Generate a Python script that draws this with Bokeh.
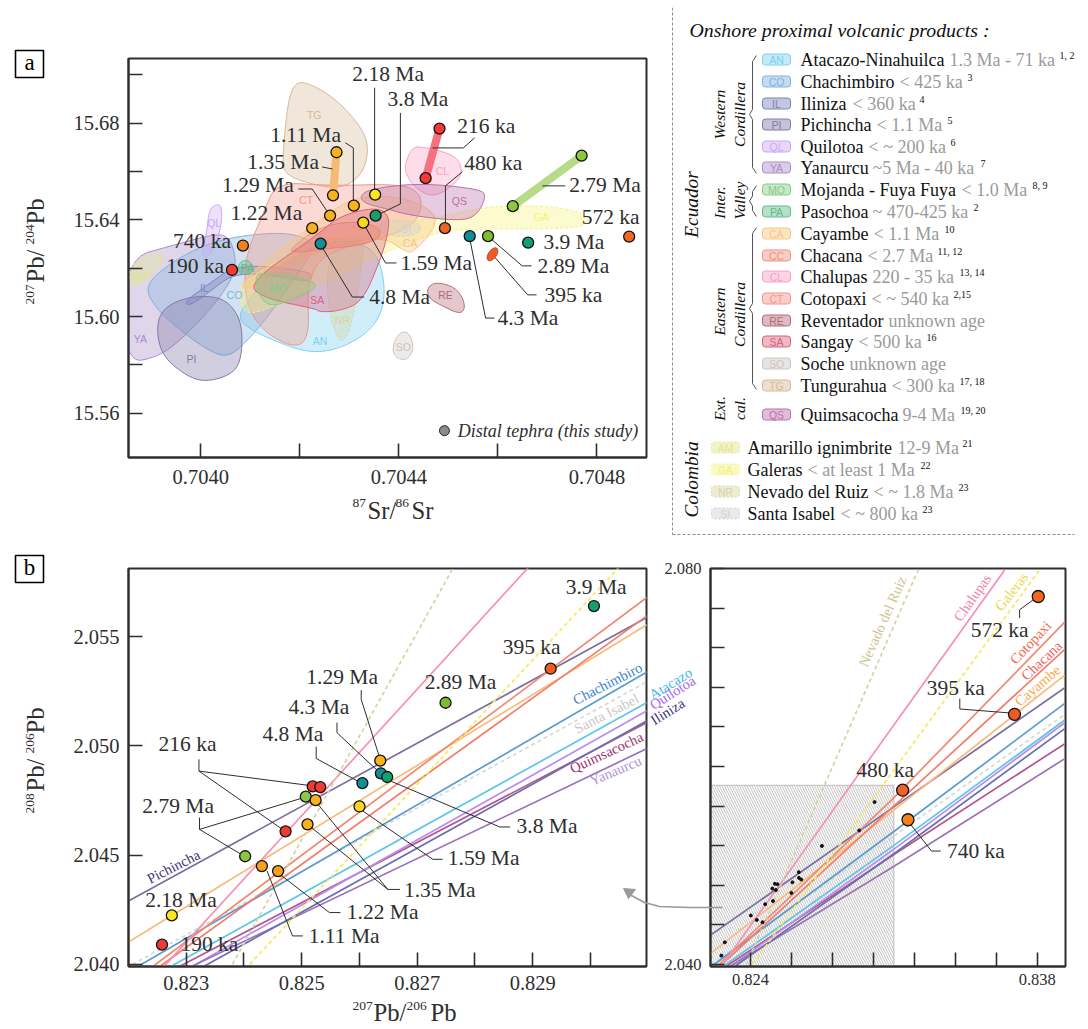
# -*- coding:utf-8 -*-
# Pb-Sr isotope plots of distal tephra against onshore volcanic fields

from bokeh.core.properties import value
from bokeh.embed import file_html
from bokeh.layouts import column, row
from bokeh.models import FixedTicker, Range1d
from bokeh.plotting import figure
from bokeh.resources import INLINE

SERIF = "Liberation Serif"
SANS = "Liberation Sans"
DARK = "#2e2e2e"

# ---- panel a : volcanic fields, 87Sr/86Sr and 207Pb/204Pb ----
ya_sr = [0.703846, 0.703947, 0.704021, 0.704054, 0.704070, 0.704068, 0.704037, 0.703973, 0.703916, 0.703846]
ya_pb = [15.6239, 15.6297, 15.6338, 15.6338, 15.6259, 15.6176, 15.6073, 15.5928, 15.5833, 15.5808]
am_sr = [0.703856, 0.703886, 0.703916, 0.703930, 0.703916, 0.703886, 0.703862, 0.703856]
am_pb = [15.6205, 15.6251, 15.6263, 15.6247, 15.6205, 15.6143, 15.6119, 15.6143]
co_sr = [0.703886, 0.703930, 0.703997, 0.704064, 0.704165, 0.704219, 0.704229, 0.704185, 0.704132, 0.704082, 0.704052, 0.704017, 0.703963, 0.703910]
co_pb = [15.6123, 15.6210, 15.6288, 15.6330, 15.6350, 15.6321, 15.6280, 15.6143, 15.5990, 15.5874, 15.5833, 15.5858, 15.5936, 15.6032]
il_sr = [0.703967, 0.704011, 0.704064, 0.704132, 0.704219, 0.704225, 0.704215, 0.704132, 0.704064, 0.704017, 0.703977]
il_pb = [15.6061, 15.6127, 15.6205, 15.6210, 15.6185, 15.6164, 15.6143, 15.6176, 15.6176, 15.6102, 15.6044]
pi_sr = [0.703910, 0.703922, 0.703971, 0.704031, 0.704064, 0.704084, 0.704082, 0.704064, 0.704011, 0.703971, 0.703922]
pi_pb = [15.5949, 15.6032, 15.6081, 15.6085, 15.6044, 15.5961, 15.5825, 15.5762, 15.5729, 15.5754, 15.5837]
ql_sr = [0.704011, 0.704017, 0.704033, 0.704043, 0.704041, 0.704023, 0.704007, 0.704003]
ql_pb = [15.6334, 15.6446, 15.6466, 15.6454, 15.6363, 15.6268, 15.6239, 15.6280]
pa_sr = [0.704074, 0.704082, 0.704094, 0.704104, 0.704106, 0.704094, 0.704080]
pa_pb = [15.6205, 15.6230, 15.6234, 15.6218, 15.6189, 15.6172, 15.6176]
mo_sr = [0.704108, 0.704142, 0.704189, 0.704231, 0.704231, 0.704189, 0.704142, 0.704118]
mo_pb = [15.6176, 15.6176, 15.6168, 15.6143, 15.6114, 15.6073, 15.6040, 15.6081]
an_sr = [0.704074, 0.704098, 0.704149, 0.704219, 0.704290, 0.704351, 0.704371, 0.704369, 0.704340, 0.704280, 0.704219, 0.704149, 0.704098]
an_pb = [15.5998, 15.6073, 15.6197, 15.6280, 15.6321, 15.6280, 15.6156, 15.6032, 15.5936, 15.5866, 15.5849, 15.5899, 15.5949]
ct_sr = [0.704153, 0.704260, 0.704401, 0.704441, 0.704447, 0.704425, 0.704361, 0.704280, 0.704235, 0.704215, 0.704219, 0.704205, 0.704169, 0.704122, 0.704092, 0.704088, 0.704098, 0.704128]
ct_pb = [15.6557, 15.6541, 15.6549, 15.6516, 15.6446, 15.6371, 15.6321, 15.6280, 15.6230, 15.6114, 15.5949, 15.5878, 15.5887, 15.5949, 15.6052, 15.6189, 15.6292, 15.6437]
tg_sr = [0.704183, 0.704203, 0.704266, 0.704320, 0.704340, 0.704328, 0.704284, 0.704219, 0.704169, 0.704165, 0.704173]
tg_pb = [15.6942, 15.6980, 15.6913, 15.6797, 15.6706, 15.6590, 15.6528, 15.6549, 15.6590, 15.6653, 15.6839]
cl_sr = [0.704411, 0.704425, 0.704441, 0.704508, 0.704528, 0.704522, 0.704472, 0.704435, 0.704417]
cl_pb = [15.6624, 15.6694, 15.6706, 15.6673, 15.6624, 15.6562, 15.6491, 15.6528, 15.6578]
qs_sr = [0.704320, 0.704340, 0.704441, 0.704563, 0.704577, 0.704557, 0.704522, 0.704427, 0.704375, 0.704334]
qs_pb = [15.6495, 15.6528, 15.6553, 15.6528, 15.6499, 15.6417, 15.6396, 15.6417, 15.6446, 15.6466]
ga_sr = [0.704078, 0.704179, 0.704280, 0.704468, 0.704577, 0.704710, 0.704779, 0.704785, 0.704738, 0.704542, 0.704476, 0.704375, 0.704274, 0.704179, 0.704094, 0.704078]
ga_pb = [15.6135, 15.6259, 15.6355, 15.6404, 15.6458, 15.6458, 15.6425, 15.6383, 15.6363, 15.6363, 15.6350, 15.6268, 15.6168, 15.6073, 15.5998, 15.6073]
nr_sr = [0.704256, 0.704290, 0.704330, 0.704324, 0.704308, 0.704286, 0.704266, 0.704256]
nr_pb = [15.6230, 15.6321, 15.6342, 15.6197, 15.5990, 15.5878, 15.5957, 15.6073]
si_sr = [0.704361, 0.704421, 0.704445, 0.704441, 0.704401, 0.704361]
si_pb = [15.6396, 15.6400, 15.6379, 15.6342, 15.6330, 15.6346]
ca_sr = [0.704078, 0.704159, 0.704239, 0.704306, 0.704401, 0.704476, 0.704470, 0.704431, 0.704417, 0.704371, 0.704280, 0.704179, 0.704094]
ca_pb = [15.6135, 15.6280, 15.6396, 15.6495, 15.6499, 15.6433, 15.6355, 15.6272, 15.6263, 15.6330, 15.6301, 15.6218, 15.6106]
sa_sr = [0.704092, 0.704233, 0.704280, 0.704355, 0.704381, 0.704377, 0.704361, 0.704326, 0.704280, 0.704239, 0.704233, 0.704132]
sa_pb = [15.6135, 15.6334, 15.6417, 15.6454, 15.6417, 15.6334, 15.6226, 15.6061, 15.6023, 15.6019, 15.6032, 15.6073]
cc_sr = [0.704179, 0.704239, 0.704310, 0.704361, 0.704363, 0.704330, 0.704249, 0.704189]
cc_pb = [15.6280, 15.6371, 15.6396, 15.6371, 15.6330, 15.6297, 15.6280, 15.6263]
re_sr = [0.704456, 0.704472, 0.704508, 0.704528, 0.704534, 0.704522, 0.704488, 0.704462]
re_pb = [15.6114, 15.6143, 15.6127, 15.6085, 15.6032, 15.6011, 15.6044, 15.6073]
so_sr = [0.704387, 0.704401, 0.704421, 0.704431, 0.704415, 0.704391]
so_pb = [15.5878, 15.5936, 15.5936, 15.5866, 15.5816, 15.5833]

field_names = ["AN", "YA", "AM", "CO", "PI", "IL", "QL", "TG", "CT", "GA", "CA", "NR", "SI", "CC", "SA", "MO", "PA", "CL", "QS", "RE", "SO"]
field_sr = [an_sr, ya_sr, am_sr, co_sr, pi_sr, il_sr, ql_sr, tg_sr, ct_sr, ga_sr, ca_sr, nr_sr, si_sr, cc_sr, sa_sr, mo_sr, pa_sr, cl_sr, qs_sr, re_sr, so_sr]
field_pb = [an_pb, ya_pb, am_pb, co_pb, pi_pb, il_pb, ql_pb, tg_pb, ct_pb, ga_pb, ca_pb, nr_pb, si_pb, cc_pb, sa_pb, mo_pb, pa_pb, cl_pb, qs_pb, re_pb, so_pb]
dashed_fields = ["AM", "GA", "NR", "SI"]

field_colors = {
    "AN": "#7dd0f0", "CO": "#7fb2dd", "IL": "#7c83bc", "PI": "#7f7ba6", "QL": "#c9a8f5", "YA": "#a88dc8",
    "MO": "#84cc84", "PA": "#5fbb88", "CA": "#f9c67e", "CC": "#f2917a", "CL": "#f9a0c2", "CT": "#f3958a",
    "RE": "#b26a74", "SA": "#d9627c", "SO": "#cdc4c0", "TG": "#d6b996", "QS": "#bc6fa8", "AM": "#e3e58a",
    "GA": "#f6f27a", "NR": "#d6d6a2", "SI": "#cfd3d3",
}

# name labels inside the fields
tag_names = ["TG", "CT", "QL", "AM", "PA", "IL", "CO", "YA", "PI", "MO", "SA", "AN", "CC", "NR", "SI", "CA", "CL", "QS", "GA", "RE", "SO"]
tag_sr = [0.704229, 0.704213, 0.704027, 0.703876, 0.704094, 0.704007, 0.704068, 0.703878, 0.703981, 0.704157, 0.704235, 0.704241, 0.704270, 0.704286, 0.704415, 0.704423, 0.704488, 0.704522, 0.704688, 0.704494, 0.704409]
tag_pb = [15.6835, 15.6483, 15.6388, 15.6168, 15.6201, 15.6119, 15.6090, 15.5907, 15.5825, 15.6119, 15.6069, 15.5899, 15.6309, 15.5986, 15.6363, 15.6305, 15.6603, 15.6479, 15.6412, 15.6090, 15.5874]

# tephra samples, panel a
tephra_a_sr = [0.704085, 0.704063, 0.704274, 0.704267, 0.704261, 0.704225, 0.704242, 0.704309, 0.704352, 0.704353, 0.704328, 0.704493, 0.704482, 0.704454, 0.704769, 0.704630, 0.704865, 0.704661, 0.704543, 0.704580]
tephra_a_pb = [15.6294, 15.6193, 15.6680, 15.6502, 15.6418, 15.6366, 15.6302, 15.6459, 15.6505, 15.6418, 15.6389, 15.6366, 15.6778, 15.6573, 15.6666, 15.6457, 15.6331, 15.6306, 15.6333, 15.6333]
tephra_a_col = ["#f58220", "#ee3b33", "#f9b21d", "#f9b21d", "#f9b21d", "#f9b21d", "#0f8f99", "#f9b21d", "#fce620", "#15a06b", "#fbd51e", "#f1612a", "#ee3b33", "#ee3b33", "#8dc63f", "#8dc63f", "#f26a22", "#15a06b", "#0f8f99", "#7dbe31"]
ellipse_395_sr = [0.704589]
ellipse_395_pb = [15.6258]

# pairs of analyses of one tephra
pair_sr = [[0.704274, 0.704267], [0.704482, 0.704454], [0.704769, 0.704630]]
pair_pb = [[15.6680, 15.6502], [15.6778, 15.6573], [15.6666, 15.6457]]
pair_col = ["#f4bc72", "#f4727f", "#b6dc8a"]

label_a = ["1.11 Ma", "1.35 Ma", "1.29 Ma", "1.22 Ma", "740 ka", "190 ka", "2.18 Ma", "3.8 Ma", "216 ka", "480 ka", "2.79 Ma", "572 ka", "3.9 Ma", "2.89 Ma", "395 ka", "4.3 Ma", "1.59 Ma", "4.8 Ma"]
label_a_sr = [0.704140, 0.704094, 0.704043, 0.704060, 0.703944, 0.703930, 0.704306, 0.704377, 0.704518, 0.704532, 0.704744, 0.704769, 0.704692, 0.704680, 0.704694, 0.704599, 0.704403, 0.704340]
label_a_pb = [15.6753, 15.6641, 15.6545, 15.6429, 15.6313, 15.6210, 15.7004, 15.6901, 15.6789, 15.6636, 15.6545, 15.6412, 15.6309, 15.6210, 15.6090, 15.5994, 15.6222, 15.6081]

leader_a_sr = [
    [0.704245, 0.704266], [0.704197, 0.704225, 0.704256], [0.704292, 0.704308, 0.704308], [0.704351, 0.704351],
    [0.704403, 0.704403, 0.704353], [0.704553, 0.704530, 0.704468], [0.704528, 0.704494, 0.704494], [0.704690, 0.704736],
    [0.704328, 0.704373, 0.704395], [0.704241, 0.704306, 0.704330], [0.704542, 0.704575, 0.704593],
    [0.704579, 0.704649, 0.704668], [0.704593, 0.704660, 0.704678],
]
leader_a_pb = [
    [15.6619, 15.6611], [15.6528, 15.6528, 15.6433], [15.6719, 15.6698, 15.6458], [15.6947, 15.6504],
    [15.6843, 15.6466, 15.6417], [15.6740, 15.6698, 15.6698], [15.6599, 15.6541, 15.6367], [15.6541, 15.6541],
    [15.6388, 15.6222, 15.6222], [15.6301, 15.6081, 15.6081], [15.6334, 15.5994, 15.5994],
    [15.6334, 15.6210, 15.6210], [15.6247, 15.6090, 15.6090],
]

# ---- panel b and inset : tephra and mixing lines, 207Pb/206Pb and 208Pb/206Pb ----
tephra_b_x = [0.82258, 0.82275, 0.82402, 0.82507, 0.82472, 0.82519, 0.82532, 0.82524, 0.82510, 0.82431, 0.82459, 0.82600, 0.82605, 0.82637, 0.82648, 0.82636, 0.82749, 0.82931, 0.83006]
tephra_b_y = [2.04090, 2.04224, 2.04495, 2.04768, 2.04609, 2.04815, 2.04812, 2.04752, 2.04641, 2.04450, 2.04427, 2.04723, 2.04830, 2.04875, 2.04858, 2.04933, 2.05198, 2.05354, 2.05641]
tephra_b_col = ["#ee3b33", "#fce620", "#8dc63f", "#8dc63f", "#ee3b33", "#ee3b33", "#ee3b33", "#f9b21d", "#f9b21d", "#f9a01d", "#f9a01d", "#fbd51e", "#0f8f99", "#0f8f99", "#15a06b", "#f9b21d", "#7dbe31", "#f15a24", "#15a06b"]

inset_x = [0.83805, 0.83689, 0.83143, 0.83169]
inset_y = [2.07717, 2.06527, 2.05761, 2.05462]
inset_col = ["#f26a22", "#f15a24", "#f1612a", "#f7801e"]

line_names = ["Pichincha", "Cayambe", "Santa Isabel", "Chachimbiro", "Cotopaxi", "Chacana", "Atacazo", "Quimsacocha", "Quilotoa", "Yanaurcu", "Iliniza", "Chalupas", "Nevado del Ruiz", "Galeras"]
line_x = [
    [0.82200, 0.83097, 0.83933], [0.82200, 0.83097, 0.83933], [0.82207, 0.83097, 0.83933], [0.82216, 0.83097, 0.83933],
    [0.82242, 0.83097, 0.83933], [0.82254, 0.83097, 0.83933], [0.82273, 0.83097, 0.83933], [0.82288, 0.83097, 0.83933],
    [0.82310, 0.83097, 0.83933], [0.82309, 0.83097, 0.83933], [0.82330, 0.83097, 0.83933],
    [0.82259, 0.83641], [0.82380, 0.83219], [0.82410, 0.83811],
]
line_y = [
    [2.04290, 2.05587, 2.06793], [2.04102, 2.05554, 2.06921], [2.04000, 2.05293, 2.06524], [2.03990, 2.05338, 2.06635],
    [2.03990, 2.05679, 2.07455], [2.03990, 2.05595, 2.07180], [2.03990, 2.05198, 2.06467], [2.03990, 2.05106, 2.06228],
    [2.03990, 2.05160, 2.06440], [2.03990, 2.04987, 2.06077], [2.03990, 2.05114, 2.06380],
    [2.03983, 2.07986], [2.04000, 2.07986], [2.04000, 2.07986],
]
line_col = ["#7c6fa0", "#fbbb78", "#d8d8d8", "#5b9bd0", "#f08a70", "#f27d6b", "#5ec5ea", "#b5578f", "#bb8cf0", "#9b72b8", "#6a6fb0", "#f78fb3", "#d5d3a0", "#f7e85c"]
dashed_lines = ["Santa Isabel", "Nevado del Ruiz", "Galeras"]

label_b = ["1.29 Ma", "4.3 Ma", "4.8 Ma", "216 ka", "2.79 Ma", "2.18 Ma", "190 ka", "1.22 Ma", "1.11 Ma", "3.9 Ma", "395 ka", "2.89 Ma", "3.8 Ma", "1.59 Ma", "1.35 Ma"]
label_b_x = [0.82508, 0.82477, 0.82432, 0.82252, 0.82224, 0.82229, 0.82290, 0.82578, 0.82512, 0.82957, 0.82848, 0.82713, 0.82872, 0.82753, 0.82677]
label_b_y = [2.05314, 2.05177, 2.05053, 2.05007, 2.04723, 2.04293, 2.04092, 2.04238, 2.04128, 2.05726, 2.05452, 2.05291, 2.04632, 2.04485, 2.04339]

leader_b_x = [
    [0.82603, 0.82603, 0.82634], [0.82561, 0.82561, 0.82632], [0.82525, 0.82525, 0.82597],
    [0.82322, 0.82322, 0.82511], [0.82322, 0.82465], [0.82323, 0.82323, 0.82499], [0.82323, 0.82395],
    [0.82440, 0.82484, 0.82502], [0.82462, 0.82548, 0.82567], [0.82528, 0.82649, 0.82670], [0.82517, 0.82649],
    [0.82606, 0.82727, 0.82744], [0.82655, 0.82843, 0.82861],
]
leader_b_y = [
    [2.05256, 2.05213, 2.04954], [2.05107, 2.05061, 2.04885], [2.04997, 2.04943, 2.04839],
    [2.04939, 2.04885, 2.04820], [2.04885, 2.04621], [2.04672, 2.04618, 2.04760], [2.04618, 2.04504],
    [2.04427, 2.04130, 2.04130], [2.04412, 2.04237, 2.04237], [2.04733, 2.04343, 2.04343], [2.04626, 2.04343],
    [2.04702, 2.04481, 2.04481], [2.04838, 2.04629, 2.04629],
]

label_c = ["572 ka", "395 ka", "480 ka", "740 ka"]
label_c_x = [0.83475, 0.83261, 0.82916, 0.83359]
label_c_y = [2.07382, 2.06797, 2.05960, 2.05143]
leader_c_x = [[0.83714, 0.83714, 0.83787], [0.83422, 0.83422, 0.83665], [0.83179, 0.83284, 0.83329]]
leader_c_y = [[2.07499, 2.07583, 2.07694], [2.06685, 2.06581, 2.06541], [2.05422, 2.05146, 2.05146]]

zoom_x0, zoom_x1, zoom_y0, zoom_y1 = 0.822, 0.831, 2.0398, 2.0581

# ---- legend ----
leg_tag = ["AN", "CO", "IL", "PI", "QL", "YA", "MO", "PA", "CA", "CC", "CL", "CT", "RE", "SA", "SO", "TG", "QS", "AM", "GA", "NR", "SI"]
leg_name = ["Atacazo-Ninahuilca", "Chachimbiro", "Iliniza", "Pichincha", "Quilotoa", "Yanaurcu", "Mojanda - Fuya Fuya", "Pasochoa", "Cayambe", "Chacana", "Chalupas", "Cotopaxi", "Reventador", "Sangay", "Soche", "Tungurahua", "Quimsacocha", "Amarillo ignimbrite", "Galeras", "Nevado del Ruiz", "Santa Isabel"]
leg_age = ["1.3 Ma - 71 ka", "< 425 ka", "< 360 ka", "< 1.1 Ma", "< ~ 200 ka", "~5 Ma - 40 ka", "< 1.0 Ma", "~ 470-425 ka", "< 1.1 Ma", "< 2.7 Ma", "220 - 35 ka", "< ~ 540 ka", "unknown age", "< 500 ka", "unknown age", "< 300 ka", "9-4 Ma", "12-9 Ma", "< at least 1 Ma", "< ~ 1.8 Ma", "< ~ 800 ka"]
leg_ref = ["1, 2", "3", "4", "5", "6", "7", "8, 9", "2", "10", "11, 12", "13, 14", "2,15", "", "16", "", "17, 18", "19, 20", "21", "22", "23", "23"]

leg_y = [60, 82, 104, 125, 147, 168, 190, 212, 234, 256, 277, 299, 321, 342, 364, 386, 415, 448, 470, 492, 514]
leg_age_x = [950, 900, 853, 877, 869, 873, 962, 873, 874, 868, 873, 872, 889, 859, 850, 892, 903, 898, 808, 874, 841]
leg_ref_x = [1060, 968, 920, 948, 951, 981, 1033, 974, 945, 938, 960, 954, 0, 927, 0, 960, 961, 963, 921, 959, 923]

side_text = ["Western", "Cordillera", "Inter.", "Valley", "Eastern", "Cordillera", "Ext.", "cal."]
side_x = [720, 740, 720, 740, 720, 740, 720, 740]
side_y = [115, 115, 203, 201, 312, 315, 409, 409]
brace_ys = [(56, 174), (186, 217), (228, 390)]

# axis titles with small raised digits, page position of the middle of the line
title_big = ["Sr/", "Sr", "Pb/", "Pb"]
title_big_x = [368, 412, 374, 431]
title_big_y = [510.5, 510.5, 1013, 1013]
title_sup = ["87", "86", "207", "206"]
title_sup_x = [353, 396, 353, 407]
title_sup_y = [503, 503, 1006.5, 1006.5]
side_big = ["Pb/", "Pb", "Pb/", "Pb"]
side_big_y = [283, 225, 792, 734]
side_sup = ["207", "204", "208", "206"]
side_sup_y = [305, 245, 814, 754]

# line labels drawn over both plots, page position and angle
tag_text = ["Pichincha", "Chachimbiro", "Santa Isabel", "Quimsacocha", "Yanaurcu", "Atacazo", "Quilotoa", "Iliniza", "Nevado del Ruiz", "Chalupas", "Galeras", "Cotopaxi", "Chacana", "Cayambe"]
tag_x = [174, 608, 607, 607, 616, 671, 673, 668, 883, 973, 1012, 1031, 1042, 1038]
tag_y = [867, 684, 714, 753, 771, 684, 693, 712, 622, 598, 592, 643, 661, 686]
tag_rot = [27, 27, 27, 25, 23, 32, 32, 32, 66, 55, 52, 47, 43, 40]
tag_col = ["#3d3480", "#3c85c8", "#c8c8c8", "#a0306f", "#b391cf", "#3ab8e8", "#a868f0", "#3d3480", "#c9c68e", "#f07fa8", "#e8d84a", "#f06b50", "#f0605a", "#f9a848"]


def smooth(xs, ys, rounds=3):
    # corner cutting, only to round off the outlines
    for _ in range(rounds):
        nx, ny = [], []
        for i in range(len(xs)):
            j = (i + 1) % len(xs)
            nx += [0.75 * xs[i] + 0.25 * xs[j], 0.25 * xs[i] + 0.75 * xs[j]]
            ny += [0.75 * ys[i] + 0.25 * ys[j], 0.25 * ys[i] + 0.75 * ys[j]]
        xs, ys = nx, ny
    return xs, ys


def style(p, xticks, yticks, xlabels, ylabels, size="20.5px", x_standoff=9):
    p.xaxis.ticker = FixedTicker(ticks=xticks)
    p.yaxis.ticker = FixedTicker(ticks=yticks)
    p.xaxis.major_label_overrides = {t: (f"{t:.{xlabels[1]}f}" if t in xlabels[0] else "") for t in xticks}
    p.yaxis.major_label_overrides = {t: (f"{t:.{ylabels[1]}f}" if t in ylabels[0] else "") for t in yticks}
    p.grid.visible = False
    for ax in [p.xaxis[0], p.yaxis[0]]:
        ax.major_tick_in = 14
        ax.major_tick_out = 0
        ax.minor_tick_line_color = None
        ax.major_tick_line_color = DARK
        ax.major_tick_line_width = 1.6
        ax.axis_line_color = DARK
        ax.axis_line_width = 2
        ax.major_label_text_font = SERIF
        ax.major_label_text_font_size = size
        ax.major_label_text_color = DARK
        ax.major_label_standoff = 9
    p.xaxis.major_label_standoff = x_standoff
    p.outline_line_color = DARK
    p.outline_line_width = 2
    p.background_fill_color = None
    p.border_fill_color = None


def tags(p, xs, ys, names, size="21.5px"):
    p.text(x=xs, y=ys, text=names, text_font=value(SERIF), text_font_size=size, text_color=DARK,
           text_align="left", text_baseline="middle")


# panel a
pa = figure(width=660, height=522, output_backend="svg", toolbar_location=None,
            x_range=Range1d(0.703854, 0.704900), y_range=Range1d(15.5417, 15.7068),
            min_border_left=121, min_border_right=21, min_border_top=51, min_border_bottom=72)
style(pa, [0.7040, 0.7042, 0.7044, 0.7046, 0.7048], [15.56, 15.58, 15.60, 15.62, 15.64, 15.66, 15.68, 15.70],
      ([0.7040, 0.7044, 0.7048], 4), ([15.56, 15.60, 15.64, 15.68], 2), x_standoff=12)

for name, sr, pb in zip(field_names, field_sr, field_pb):
    sx, sy = smooth(sr, pb)
    dash = "3 2" if name in dashed_fields else "solid"
    pa.patch(sx, sy, fill_color=field_colors[name], fill_alpha=0.36, line_color=field_colors[name],
             line_width=1, line_dash=dash)
pa.text(x=tag_sr, y=tag_pb, text=tag_names, text_font=value(SANS), text_font_size="10.5px",
        text_color=[field_colors[n] for n in tag_names], text_align="center", text_baseline="middle")
pa.multi_line(pair_sr, pair_pb, line_color=pair_col, line_width=8)
pa.multi_line(leader_a_sr, leader_a_pb, line_color=DARK, line_width=1)
pa.scatter(tephra_a_sr, tephra_a_pb, size=11, fill_color=tephra_a_col, line_color="#111111", line_width=1.3)
pa.ellipse(ellipse_395_sr, ellipse_395_pb, width=15, height=8, angle=55, angle_units="deg",
           width_units="screen", height_units="screen", fill_color="#f15a24", line_color="#a8401c", line_width=0.8)
tags(pa, label_a_sr, label_a_pb, label_a)
pa.scatter([0.704492], [15.5528], size=10, fill_color="#8a8a8a", line_color="#222222", line_width=1)
pa.text(x=[0.704519], y=[15.5528], text=["Distal tephra (this study)"], text_font=value(SERIF),
        text_font_style="italic", text_font_size="18px", text_color=DARK, text_baseline="middle")

# panel b
pb = figure(width=662, height=491, output_backend="svg", toolbar_location=None,
            x_range=Range1d(0.822, 0.83097), y_range=Range1d(2.0399, 2.05813),
            min_border_left=121, min_border_right=23, min_border_top=39, min_border_bottom=54)
style(pb, [0.823, 0.824, 0.825, 0.826, 0.827, 0.828, 0.829, 0.830, 0.831], [2.040, 2.045, 2.050, 2.055],
      ([0.823, 0.825, 0.827, 0.829, 0.831], 3), ([2.040, 2.045, 2.050, 2.055], 3))

# inset
pc = figure(width=430, height=491, output_backend="svg", toolbar_location=None, margin=(0, 0, 0, -20),
            x_range=Range1d(0.82205, 0.83938), y_range=Range1d(2.0398, 2.0800),
            min_border_left=61, min_border_right=14, min_border_top=39, min_border_bottom=54)
style(pc, [0.824, 0.826, 0.828, 0.830, 0.832, 0.834, 0.836, 0.838], [2.044, 2.048, 2.052, 2.056, 2.060, 2.064, 2.068, 2.072, 2.076, 2.040, 2.080],
      ([0.824, 0.838], 3), ([2.040, 2.080], 3), size="16.5px", x_standoff=7)
pc.quad(left=[zoom_x0], right=[zoom_x1], bottom=[zoom_y0], top=[zoom_y1], fill_color=None, line_color="#bdbdbd",
        hatch_pattern="left_diagonal_line", hatch_color="#a6a6a6", hatch_scale=5, hatch_weight=0.7)

for p in (pb, pc):
    for name, xs, ys, col in zip(line_names, line_x, line_y, line_col):
        p.line(xs, ys, line_color=col, line_width=1.7, line_dash="4 3" if name in dashed_lines else "solid")

pb.multi_line(leader_b_x, leader_b_y, line_color=DARK, line_width=1)
pb.scatter(tephra_b_x, tephra_b_y, size=11, fill_color=tephra_b_col, line_color="#111111", line_width=1.3)
tags(pb, label_b_x, label_b_y, label_b)

pc.scatter(tephra_b_x, tephra_b_y, size=3, fill_color="#111111", line_color="#111111")
pc.multi_line(leader_c_x, leader_c_y, line_color=DARK, line_width=1)
pc.scatter(inset_x, inset_y, size=12, fill_color=inset_col, line_color="#111111", line_width=1.3)
tags(pc, label_c_x, label_c_y, label_c)

# page furniture: legend, panel letters, axis titles, everything that crosses two plots
# x and y of this figure are page pixels
ov = figure(width=1072, height=1020, output_backend="svg", toolbar_location=None, margin=(-1013, 0, 0, 0),
            x_range=Range1d(8, 1080), y_range=Range1d(1028, 8), min_border=0)
ov.axis.visible = False
ov.grid.visible = False
ov.outline_line_color = None
ov.background_fill_color = None
ov.border_fill_color = None

ov.quad(left=[16, 16], right=[44, 44], top=[51, 556], bottom=[78, 583], fill_color="white", line_color="black", line_width=1.6)
ov.text(x=[30, 30], y=[63, 568], text=["a", "b"], text_font=value(SERIF), text_font_size="23px", text_color="black",
        text_align="center", text_baseline="middle")

ov.text(x=title_big_x, y=title_big_y, text=title_big, text_font=value(SERIF), text_font_size="24.7px", text_color=DARK,
        text_baseline="middle")
ov.text(x=title_sup_x, y=title_sup_y, text=title_sup, text_font=value(SERIF), text_font_size="13.5px", text_color=DARK,
        text_baseline="middle")
ov.text(x=[35.5, 35.5, 35.5, 35.5], y=side_big_y, text=side_big, text_font=value(SERIF), text_font_size="24.7px", text_color=DARK,
        angle=90, angle_units="deg", text_baseline="middle")
ov.text(x=[30, 30, 30, 30], y=side_sup_y, text=side_sup, text_font=value(SERIF), text_font_size="13.5px", text_color=DARK,
        angle=90, angle_units="deg", text_baseline="middle")

ov.line([673, 673], [8, 535], line_color="#8c8c8c", line_dash="3 2", line_width=1)
ov.line([673, 1075], [535, 535], line_color="#8c8c8c", line_dash="3 2", line_width=1)
ov.text(x=[690], y=[30], text=["Onshore proximal volcanic products :"], text_font=value(SERIF), text_font_style="italic",
        text_font_size="19.8px", text_color="#111111", text_baseline="middle")
ov.text(x=[692, 692], y=[205, 480], text=["Ecuador", "Colombia"], text_font=value(SERIF), text_font_style="italic",
        text_font_size="19.3px", text_color="#111111", angle=90, angle_units="deg", text_align="center", text_baseline="middle")
ov.text(x=side_x, y=side_y, text=side_text, text_font=value(SERIF), text_font_style="italic", text_font_size="15.5px",
        text_color="#111111", angle=90, angle_units="deg", text_align="center", text_baseline="middle")
for y0, y1 in brace_ys:
    mid = (y0 + y1) / 2
    bx = [757, 753, 753, 750, 753, 753, 757]
    by = [y0, y0 + 6, mid - 5, mid, mid + 5, y1 - 6, y1]
    ov.line(bx, by, line_color="#555555", line_width=1)

for tag, name, age, ref, y, ax, rx in zip(leg_tag, leg_name, leg_age, leg_ref, leg_y, leg_age_x, leg_ref_x):
    col = field_colors[tag]
    colombia = tag in dashed_fields
    sw_x = 712 if colombia else 763
    ov.quad(left=[sw_x], right=[sw_x + 28], top=[y - 5.5], bottom=[y + 5.5], border_radius=3, fill_color=col, fill_alpha=0.45,
            line_color=col, line_width=1, line_dash="2 2" if colombia else "solid")
    ov.text(x=[sw_x + 14], y=[y], text=[tag], text_font=value(SANS), text_font_size="10.5px", text_color=col,
            text_align="center", text_baseline="middle")
    ov.text(x=[748 if colombia else 801], y=[y], text=[name], text_font=value(SERIF), text_font_size="18px",
            text_color="#111111", text_baseline="middle")
    ov.text(x=[ax], y=[y], text=[age], text_font=value(SERIF), text_font_size="18px", text_color="#9a9a9a", text_baseline="middle")
    if ref:
        ov.text(x=[rx], y=[y - 4], text=[ref], text_font=value(SERIF), text_font_size="10px", text_color="#111111", text_baseline="middle")

ov.text(x=tag_x, y=tag_y, text=tag_text, text_font=value(SERIF), text_font_size="14.5px", text_color=tag_col,
        angle=tag_rot, angle_units="deg", text_align="center", text_baseline="middle")

# arrow from the hatched box to panel b
ov.line([723, 690, 660, 645, 632, 627], [908, 908, 907, 903, 896, 891], line_color="#999999", line_width=1.6)
ov.patch([624, 636, 629], [889, 890, 899], fill_color="#999999", line_color="#999999")

layout = column(row(pa), row(pb, pc), ov, spacing=0, margin=(7, 0, 0, 7))
open("out.html", "w").write(file_html(layout, INLINE))
